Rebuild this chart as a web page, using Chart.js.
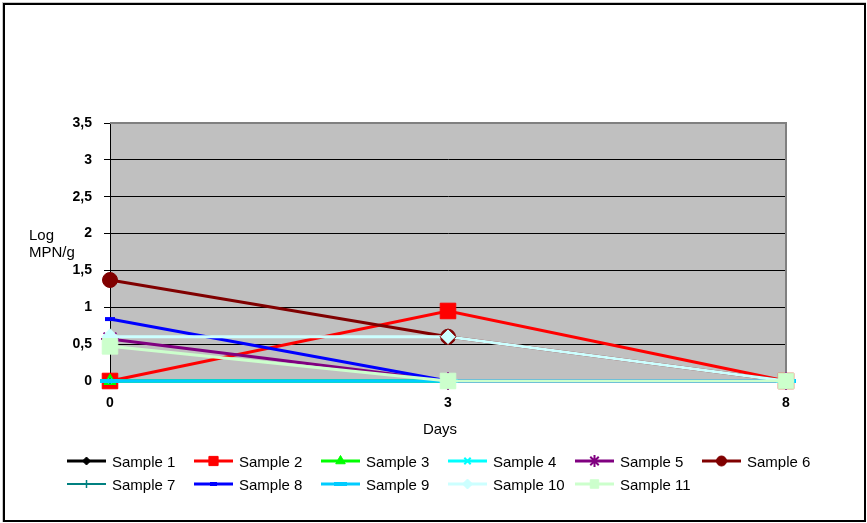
<!DOCTYPE html>
<html>
<head>
<meta charset="utf-8">
<script src="https://cdn.jsdelivr.net/npm/chart.js@4.4.1/dist/chart.umd.min.js"></script>
<style>
  html, body { margin: 0; padding: 0; background: #ffffff; }
  canvas { display: block; }
</style>
</head>
<body>
<canvas id="chart" width="867" height="523"></canvas>
<script>
// Sampling days (category axis) and Y tick labels (comma decimals)
const days = ['0', '3', '8'];
const yTickLabels = ['0', '0,5', '1', '1,5', '2', '2,5', '3', '3,5'];
const seriesNames = ['Sample 1', 'Sample 2', 'Sample 3', 'Sample 4', 'Sample 5', 'Sample 6',
                     'Sample 7', 'Sample 8', 'Sample 9', 'Sample 10', 'Sample 11'];

// Log MPN/g per sample at day 0, 3 and 8
const sample1  = [0, 0, 0];
const sample2  = [0, 0.95, 0];
const sample3  = [0, 0, 0];
const sample4  = [0, 0, 0];
const sample5  = [0.57, 0, 0];
const sample6  = [1.37, 0.6, 0];
const sample7  = [0, 0, 0];
const sample8  = [0.84, 0, 0];
const sample9  = [0, 0, 0];
const sample10 = [0.6, 0.6, 0];
const sample11 = [0.47, 0, 0];
const seriesValues = [sample1, sample2, sample3, sample4, sample5, sample6,
                      sample7, sample8, sample9, sample10, sample11];

// Line colour, marker shape, marker radius in plot / legend, line width
const looks = [
  { color: '#000000', point: 'rectRot',  r: 5,   lr: 4,   bw: 1, lw: 3 },
  { color: '#ff0000', point: 'rect',     r: 11,  lr: 6.5, bw: 1, lw: 3 },
  { color: '#00ff00', point: 'triangle', r: 7,   lr: 5.5, bw: 1, lw: 3 },
  { color: '#00ffff', point: 'crossRot', r: 3,   lr: 4.5, bw: 2, lw: 3 },
  { color: '#800080', point: 'star',     r: 9,   lr: 6,   bw: 2, lw: 3 },
  { color: '#800000', point: 'circle',   r: 7.5, lr: 5,   bw: 1, lw: 3 },
  { color: '#008080', point: 'cross',    r: 3,   lr: 4,   bw: 1.5, lw: 2 },
  { color: '#0000ff', point: 'line',     r: 5,   lr: 3.5, bw: 4, lw: 3 },
  { color: '#00ccff', point: 'line',     r: 10,  lr: 6.5, bw: 4, lw: 3 },
  { color: '#ccffff', point: 'rectRot',  r: 8,   lr: 5,   bw: 1, lw: 3 },
  { color: '#ccffcc', point: 'rect',     r: 11,  lr: 6,   bw: 1, lw: 3 }
];

const datasets = seriesNames.map((name, i) => {
  const lk = looks[i];
  return {
    label: name,
    data: seriesValues[i],
    borderColor: lk.color,
    backgroundColor: lk.color,
    borderWidth: lk.lw,
    pointStyle: lk.point,
    pointRadius: lk.r,
    pointHoverRadius: lk.r,
    pointBorderWidth: lk.bw,
    pointBorderColor: lk.color,
    pointBackgroundColor: lk.color,
    tension: 0,
    clip: false,
    // later samples are painted over earlier ones
    order: seriesNames.length - i
  };
});
// Sample 10 marker at day 3 sits over Sample 6 and takes its outline
datasets[9].pointBorderColor = ['#ccffff', '#800000', '#ccffff'];

const FONT = "'Liberation Sans', Arial, sans-serif";

const decor = {
  id: 'decor',
  beforeDraw(chart) {
    const { ctx, chartArea: a, width, height } = chart;
    ctx.save();
    ctx.fillStyle = '#ffffff';
    ctx.fillRect(0, 0, width, height);
    ctx.fillStyle = '#c0c0c0';
    ctx.fillRect(a.left, a.top, a.right - a.left, a.bottom - a.top);
    ctx.restore();
  },
  beforeDatasetsDraw(chart) {
    const { ctx, chartArea: a } = chart;
    ctx.save();
    ctx.strokeStyle = '#808080';
    ctx.lineWidth = 2;
    ctx.beginPath();
    ctx.moveTo(a.left, a.top);
    ctx.lineTo(a.right, a.top);
    ctx.lineTo(a.right, a.bottom);
    ctx.stroke();
    ctx.restore();
  },
  afterDraw(chart) {
    const { ctx } = chart;
    ctx.save();
    // outer frame
    ctx.strokeStyle = '#c8c8c8';
    ctx.lineWidth = 1;
    ctx.strokeRect(2.5, 2.5, 863, 519);
    ctx.strokeStyle = '#000000';
    ctx.lineWidth = 2;
    ctx.strokeRect(4, 4, 861, 517);

    // axis titles
    ctx.fillStyle = '#000000';
    ctx.font = '15px ' + FONT;
    ctx.textBaseline = 'alphabetic';
    ctx.textAlign = 'left';
    ctx.fillText('Log', 29, 240);
    ctx.fillText('MPN/g', 29, 257);
    ctx.textAlign = 'center';
    ctx.fillText('Days', 440, 434);

    // legend: two rows, fixed columns
    const helpers = Chart.helpers;
    chart.data.datasets.forEach((ds, i) => {
      const lk = looks[i];
      const col = i % 6, row = Math.floor(i / 6);
      const x = 67 + 127 * col;
      const y = 461 + 23 * row;
      ctx.strokeStyle = lk.color;
      ctx.lineWidth = lk.lw;
      ctx.beginPath();
      ctx.moveTo(x, y);
      ctx.lineTo(x + 39, y);
      ctx.stroke();
      ctx.fillStyle = lk.color;
      ctx.strokeStyle = lk.color;
      ctx.lineWidth = lk.bw;
      helpers.drawPoint(ctx, { pointStyle: lk.point, radius: lk.lr, rotation: 0, borderWidth: lk.bw }, x + 19.5, y);
      ctx.fillStyle = '#000000';
      ctx.font = '15px ' + FONT;
      ctx.textAlign = 'left';
      ctx.textBaseline = 'alphabetic';
      ctx.fillText(ds.label, x + 45, y + 5.5);
    });
    ctx.restore();
  }
};

new Chart(document.getElementById('chart'), {
  type: 'line',
  data: { labels: days, datasets },
  options: {
    responsive: false,
    animation: false,
    devicePixelRatio: 1,
    layout: { padding: { left: 0, top: 123, right: 81, bottom: 0 } },
    plugins: {
      legend: { display: false },
      tooltip: { enabled: false },
      title: { display: false }
    },
    scales: {
      x: {
        type: 'category',
        offset: false,
        grid: { display: true, drawOnChartArea: false, drawTicks: false },
        border: { display: true, color: '#000000', width: 1 },
        ticks: {
          padding: 14,
          color: '#000000',
          font: { family: FONT, size: 14, weight: 'bold' },
          maxRotation: 0
        },
        afterFit(scale) { scale.height = 142; }
      },
      y: {
        min: 0,
        max: 3.5,
        grid: {
          color: (c) => (c.tick && c.tick.value === 3.5 ? '#808080' : '#000000'),
          tickColor: '#000000',
          lineWidth: 1,
          tickLength: 6,
          drawTicks: true
        },
        border: { display: true, color: '#000000', width: 1 },
        ticks: {
          stepSize: 0.5,
          padding: 12,
          color: '#000000',
          font: { family: FONT, size: 14, weight: 'bold' },
          callback: (v, idx) => yTickLabels[idx]
        },
        afterFit(scale) { scale.width = 110; }
      }
    }
  },
  plugins: [decor]
});
</script>
</body>
</html>
